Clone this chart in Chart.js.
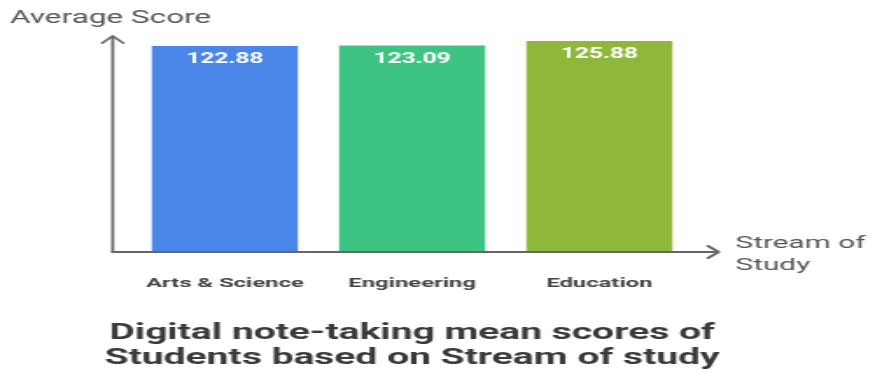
<!DOCTYPE html>
<html>
<head>
  <meta charset="UTF-8">
  <title>Digital note-taking mean scores</title>
  <style>
    html, body { margin: 0; padding: 0; background: #fff; overflow: hidden; }
    /* the source picture is stretched sideways, so the chart is drawn narrow and widened */
    .wrapper {
      width: 500px;
      height: 373px;
      transform: scaleX(1.75);
      transform-origin: 0 0;
    }
  </style>
</head>
<body>
  <div class="wrapper">
    <canvas id="scoreChart"></canvas>
  </div>

  <script src="https://cdn.jsdelivr.net/npm/chart.js@4.4.1/dist/chart.umd.min.js"></script>
  <script>
    // Data
    const streams = ['Arts & Science', 'Engineering', 'Education'];
    const meanScores = [122.88, 123.09, 125.88];
    const barColors = ['#4A86E8', '#3DC482', '#8FB83A'];
    const yAxisTitle = 'Average Score';
    const xAxisTitle = ['Stream of', 'Study'];
    const chartTitle = ['Digital note-taking mean scores of', 'Students based on Stream of study'];

    // Arrow axes, axis titles, chart title and value labels on top of the bars
    const decorations = {
      id: 'decorations',
      afterDatasetsDraw(chart) {
        const ctx = chart.ctx;
        const area = chart.chartArea;
        const axisX = area.left - 10.6;
        const axisTop = 36;
        const axisEnd = area.right + 14.6;

        ctx.save();
        ctx.strokeStyle = '#666';
        ctx.lineWidth = 1.7;
        ctx.lineCap = 'round';
        ctx.lineJoin = 'round';

        // y axis with arrow
        ctx.beginPath();
        ctx.moveTo(axisX, area.bottom);
        ctx.lineTo(axisX, axisTop);
        ctx.moveTo(axisX - 6, axisTop + 7);
        ctx.lineTo(axisX, axisTop);
        ctx.lineTo(axisX + 6, axisTop + 7);
        ctx.stroke();

        // x axis with arrow
        ctx.lineWidth = 2;
        ctx.beginPath();
        ctx.moveTo(axisX, area.bottom);
        ctx.lineTo(axisEnd, area.bottom);
        ctx.moveTo(axisEnd - 6, area.bottom - 6);
        ctx.lineTo(axisEnd, area.bottom);
        ctx.lineTo(axisEnd - 6, area.bottom + 6);
        ctx.stroke();

        // axis titles
        ctx.fillStyle = '#555';
        ctx.font = '18px Roboto';
        ctx.textBaseline = 'middle';
        ctx.textAlign = 'left';
        ctx.fillText(yAxisTitle, 5.7, 18);
        ctx.font = '17px Roboto';
        ctx.fillText(xAxisTitle[0], axisEnd + 9.7, 244);
        ctx.fillText(xAxisTitle[1], axisEnd + 9.7, 266);

        // chart title under the axis labels
        const midX = (area.left + area.right) / 2;
        ctx.fillStyle = '#3a3a3a';
        ctx.font = 'bold 22.3px Roboto';
        ctx.textAlign = 'center';
        ctx.fillText(chartTitle[0], midX, 333.5);
        ctx.fillText(chartTitle[1], midX, 358.5);

        // value labels inside the bars
        const meta = chart.getDatasetMeta(0);
        ctx.fillStyle = '#fff';
        ctx.font = 'bold 14px Roboto';
        meta.data.forEach((bar, i) => {
          ctx.fillText(meanScores[i].toFixed(2), bar.x, bar.y + 13.5);
        });
        ctx.restore();
      }
    };

    const ctx = document.getElementById('scoreChart').getContext('2d');
    const scoreChart = new Chart(ctx, {
      type: 'bar',
      data: {
        labels: streams,
        datasets: [{
          data: meanScores,
          backgroundColor: barColors,
          borderWidth: 0,
          categoryPercentage: 1,
          barPercentage: 0.78
        }]
      },
      options: {
        responsive: true,
        maintainAspectRatio: false,
        animation: false,
        layout: {
          padding: { left: 75, right: 104, top: 34, bottom: 83 }
        },
        scales: {
          x: {
            grid: { display: false, drawTicks: false },
            border: { display: false },
            afterFit(scale) {
              scale.height = 38; // keep the gap under the bars as in the picture
            },
            ticks: {
              color: '#444',
              padding: 23,
              font: { family: 'Roboto', size: 13.6, weight: 'bold' }
            }
          },
          y: {
            display: false,
            min: 0,
            max: 130
          }
        },
        plugins: {
          legend: { display: false },
          tooltip: { enabled: false },
          title: { display: false }
        }
      },
      plugins: [decorations]
    });
  </script>
</body>
</html>
